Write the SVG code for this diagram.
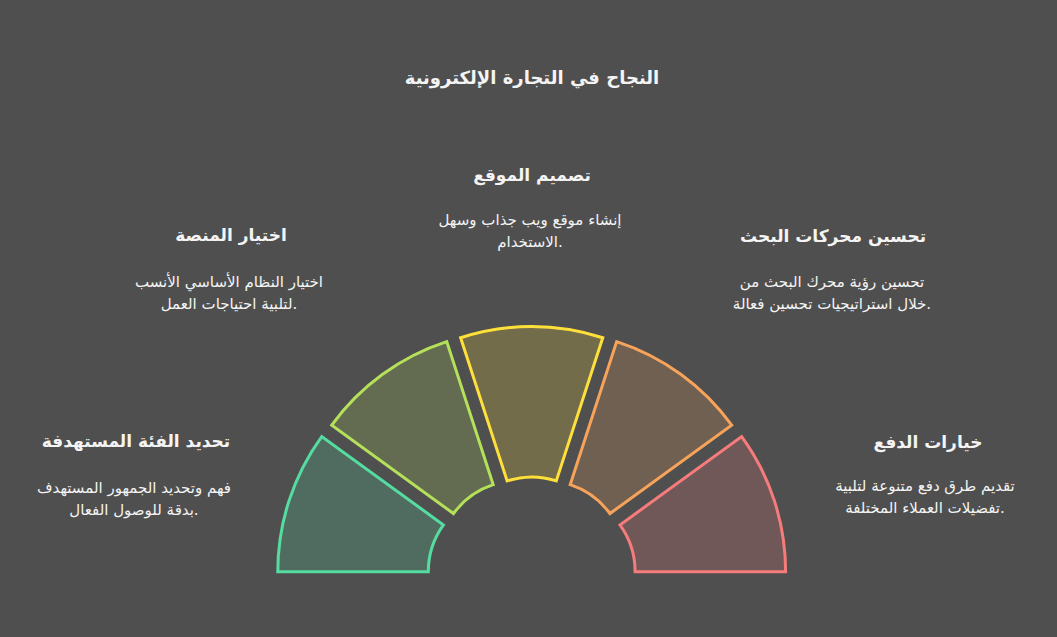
<svg xmlns="http://www.w3.org/2000/svg" width="1057" height="637" viewBox="0 0 1057 637">
  <style>
    text { font-family: "DejaVu Sans", "Noto Sans", sans-serif; fill: #f4f4f4; text-anchor: middle; }
    .title { font-size: 18px; font-weight: bold; }
    .head { font-size: 17px; font-weight: bold; }
    .desc { font-size: 15px; }
    .seg { stroke-width: 3; stroke-linejoin: miter; fill-opacity: 0.2; }
  </style>
  <rect x="0" y="0" width="1057" height="637" fill="#4f4f4f"/>
  <text class="title" x="532" y="84">النجاح في التجارة الإلكترونية</text>

  <g id="segments">
    <g id="seg-audience">
      <path class="seg" fill="#55dca0" stroke="#55dca0" d="M 277.8 571.7 A 230 230 0 0 1 321.73 436.51 L 443.48 524.97 A 79.5 79.5 0 0 0 428.3 571.7 Z"/>
    </g>
    <g id="seg-platform">
      <path class="seg" fill="#b4e05a" stroke="#b4e05a" d="M 331.73 425.11 A 230 230 0 0 1 446.73 341.56 L 493.23 484.69 A 79.5 79.5 0 0 0 453.48 513.57 Z"/>
    </g>
    <g id="seg-design">
      <path class="seg" fill="#ffe03a" stroke="#ffe03a" d="M 460.63 337.76 A 230 230 0 0 1 602.77 337.76 L 556.27 480.89 A 79.5 79.5 0 0 0 507.13 480.89 Z"/>
    </g>
    <g id="seg-seo">
      <path class="seg" fill="#f7a35a" stroke="#f7a35a" d="M 616.67 341.56 A 230 230 0 0 1 731.67 425.11 L 609.92 513.57 A 79.5 79.5 0 0 0 570.17 484.69 Z"/>
    </g>
    <g id="seg-payment">
      <path class="seg" fill="#f67c7c" stroke="#f67c7c" d="M 741.67 436.51 A 230 230 0 0 1 785.6 571.7 L 635.1 571.7 A 79.5 79.5 0 0 0 619.92 524.97 Z"/>
    </g>
  </g>

  <g id="label-design">
    <text class="head" x="532" y="181">تصميم الموقع</text>
    <text class="desc" x="530" y="225">إنشاء موقع ويب جذاب وسهل</text>
    <text class="desc" x="530" y="247">الاستخدام.</text>
  </g>
  <g id="label-platform">
    <text class="head" x="231" y="241">اختيار المنصة</text>
    <text class="desc" x="229" y="287">اختيار النظام الأساسي الأنسب</text>
    <text class="desc" x="229" y="309">لتلبية احتياجات العمل.</text>
  </g>
  <g id="label-seo">
    <text class="head" x="833" y="242">تحسين محركات البحث</text>
    <text class="desc" x="832" y="287">تحسين رؤية محرك البحث من</text>
    <text class="desc" x="832" y="309">خلال استراتيجيات تحسين فعالة.</text>
  </g>
  <g id="label-audience">
    <text class="head" x="136" y="447">تحديد الفئة المستهدفة</text>
    <text class="desc" x="134" y="493">فهم وتحديد الجمهور المستهدف</text>
    <text class="desc" x="134" y="515">بدقة للوصول الفعال.</text>
  </g>
  <g id="label-payment">
    <text class="head" x="928" y="448">خيارات الدفع</text>
    <text class="desc" x="925" y="491">تقديم طرق دفع متنوعة لتلبية</text>
    <text class="desc" x="925" y="513">تفضيلات العملاء المختلفة.</text>
  </g>
</svg>
